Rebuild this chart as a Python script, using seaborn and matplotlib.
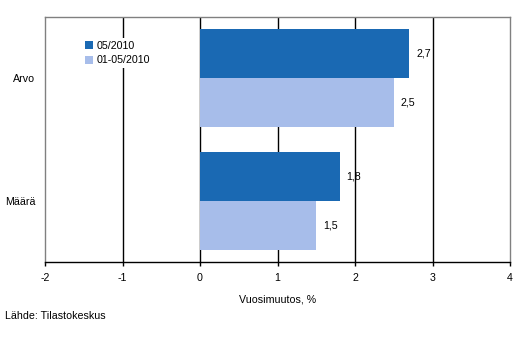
import pandas as pd
import matplotlib.pyplot as plt
import seaborn as sns

categories = ['Arvo', 'Määrä']
series_names = ['05/2010', '01-05/2010']
values_may = [2.7, 1.8]
values_jan_may = [2.5, 1.5]
x_ticks = [-2, -1, 0, 1, 2, 3, 4]

df = pd.DataFrame({
    'kategoria': categories * 2,
    'sarja': [series_names[0]] * len(categories) + [series_names[1]] * len(categories),
    'arvo': values_may + values_jan_may,
})

sns.set_style('white')
plt.rcParams['font.family'] = ['Liberation Sans', 'DejaVu Sans']
plt.rcParams['text.color'] = 'black'
plt.rcParams['xtick.color'] = 'black'
plt.rcParams['ytick.color'] = 'black'
plt.rcParams['axes.labelcolor'] = 'black'

colors = ['#1a69b3', '#a7bdea']
fs = 7.7

fig = plt.figure(figsize=(5.29, 3.56), dpi=100)
ax = fig.add_axes([45 / 529, 1 - 262 / 356, 465 / 529, 245 / 356])

sns.barplot(data=df, y='kategoria', x='arvo', hue='sarja', hue_order=series_names,
            palette=colors, orient='h', width=0.8, saturation=1, ax=ax,
            edgecolor='none', linewidth=0, zorder=2)

# pystysuorat apuviivat
for t in x_ticks[1:-1]:
    ax.axvline(t, color='black', linewidth=1, zorder=1)

for cont in ax.containers:
    labels = [f'{v:.1f}'.replace('.', ',') for v in cont.datavalues]
    ax.bar_label(cont, labels=labels, padding=5, fontsize=fs)

ax.set_xlim(-2, 4)
ax.set_ylim(1.5, -0.5)
ax.set_xticks(x_ticks)
ax.set_xticklabels([str(t) for t in x_ticks], fontsize=fs)
ax.tick_params(axis='x', direction='out', length=3, width=1, color='black', pad=5, bottom=True)
ax.tick_params(axis='y', length=0, labelsize=fs, pad=7)
ax.set_ylabel('')
ax.set_xlabel('Vuosimuutos, %', fontsize=fs, labelpad=8)

for s in ['top', 'left', 'right']:
    ax.spines[s].set_color('#808080')
    ax.spines[s].set_linewidth(1)
ax.spines['bottom'].set_color('black')
ax.spines['bottom'].set_linewidth(1)

leg = ax.legend(loc='upper left', bbox_to_anchor=(82 / 529, 1 - 38 / 356),
                bbox_transform=fig.transFigure, frameon=True, fontsize=fs,
                handlelength=0.75, handleheight=0.75, handletextpad=0.35,
                borderpad=0.25, labelspacing=0.45, borderaxespad=0)
leg.get_frame().set_facecolor('white')
leg.get_frame().set_edgecolor('none')
leg.get_frame().set_alpha(1)

fig.text(5 / 529, 1 - 316 / 356, 'Lähde: Tilastokeskus', fontsize=fs, va='center', ha='left')

fig.savefig('out.png', dpi=100)
